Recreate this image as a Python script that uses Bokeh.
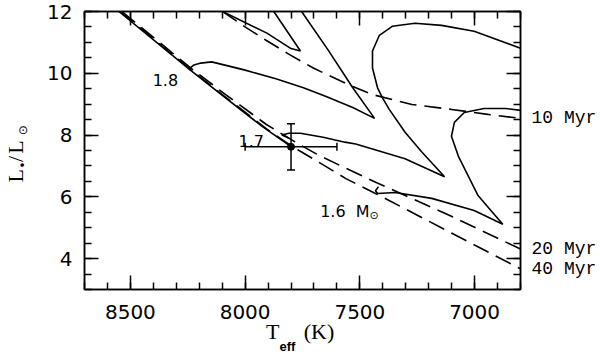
from math import pi
from bokeh.plotting import figure
from bokeh.models import (Range1d, LinearAxis, SingleIntervalTicker, FixedTicker, Label,
                          AllLabels)
from bokeh.embed import file_html
from bokeh.resources import INLINE

# ---------------- data ----------------
zams_teff = [8550, 8240, 8098, 7926, 7797]
zams_lum = [12.0, 10.11, 9.28, 8.28, 7.61]

track20_teff = [8098, 7905, 7800, 7759, 7875]
track20_lum = [12.0, 11.30, 10.80, 10.72, 12.0]

track18_teff = [8231, 8244, 8223, 8193, 8146, 8004, 7866, 7746, 7647, 7531, 7436, 7531, 7638, 7754]
track18_lum = [10.08, 10.14, 10.27, 10.33, 10.37, 10.11, 9.82, 9.53, 9.25, 8.89, 8.54, 9.53, 10.75, 12.0]

track17_teff = [7810, 7840, 7810, 7759, 7660, 7565, 7518, 7303, 7131, 7230, 7303, 7372, 7402,
                7423, 7445, 7445, 7415, 7359, 7260, 7144, 7002, 6800]
track17_lum = [7.90, 8.00, 8.06, 8.06, 7.93, 7.77, 7.71, 7.23, 6.65, 7.45, 8.09, 8.83, 9.21,
               9.53, 10.17, 10.72, 11.23, 11.52, 11.62, 11.55, 11.36, 10.81]

track16_teff = [7419, 7432, 7423, 7346, 7187, 7002, 6877, 6929, 6985, 7028, 7071, 7101, 7088,
                7045, 6959, 6865, 6800]
track16_lum = [6.33, 6.20, 6.11, 6.14, 5.95, 5.56, 5.11, 5.56, 6.04, 6.68, 7.32, 7.96, 8.41,
               8.73, 8.86, 8.86, 8.80]

iso10_teff = [8098, 8004, 7909, 7810, 7703, 7604, 7531, 7445, 7273, 7101, 6942, 6800]
iso10_lum = [12.0, 11.52, 11.07, 10.62, 10.17, 9.82, 9.57, 9.31, 8.99, 8.83, 8.67, 8.54]

iso20_teff = [8537, 8227, 8085, 7909, 7832, 7767, 7690, 7582, 7436, 7101, 6800]
iso20_lum = [12.0, 10.11, 9.31, 8.35, 8.00, 7.71, 7.39, 7.00, 6.49, 5.37, 4.31]

iso40_teff = [8545, 8236, 8094, 7905, 7797, 7754, 7681, 7561, 7432, 7101, 6800]
iso40_lum = [12.0, 10.11, 9.28, 8.19, 7.64, 7.45, 7.13, 6.59, 6.11, 4.83, 3.67]

star_teff = 7800
star_teff_err = 200
star_lum = 7.62
star_lum_err = 0.75

# isochrone labels (right margin), placed at the line ends
iso_labels = ["10 Myr", "20 Myr", "40 Myr"]
iso_label_lum = [8.54, 4.31, 3.66]

mass_labels = ["1.8", "1.7", "1.6"]
mass_label_teff = [8292, 7918, 7673]
mass_label_lum = [9.79, 7.80, 5.53]

# axis-title pieces
xtitle_main = {7880: "T", 7678: "(K)"}
xtitle_sub = {7816: "eff"}
ytitle_main = {6.683: "L", 7.227: "/", 7.612: "L"}
ytitle_sub = {7.035: "\u2022", 8.156: "\u2299"}

# ---------------- figure ----------------
p = figure(width=600, height=356, x_range=Range1d(8700, 6800), y_range=Range1d(3, 12),
           output_backend="svg", toolbar_location=None,
           min_border_left=78, min_border_right=80, min_border_top=11, min_border_bottom=64)
bottom_ax = p.below[0]
left_ax = p.left[0]
p.grid.visible = False
p.background_fill_color = "white"
p.border_fill_color = "white"
p.outline_line_color = "black"
p.outline_line_width = 1.5

xt = SingleIntervalTicker(interval=500, num_minor_ticks=5)
yt = SingleIntervalTicker(interval=2, num_minor_ticks=4)
bottom_ax.ticker = xt
left_ax.ticker = yt

top = LinearAxis(ticker=xt)
right = LinearAxis(ticker=yt)
p.add_layout(top, "above")
p.add_layout(right, "right")

for ax in [bottom_ax, left_ax, top, right]:
    ax.major_tick_in = 14
    ax.major_tick_out = 0
    ax.minor_tick_in = 7
    ax.minor_tick_out = 0
    ax.axis_line_width = 1.5
    ax.axis_line_color = "black"
    ax.major_tick_line_width = 1.5
    ax.minor_tick_line_width = 1.5
    ax.major_tick_line_color = "black"
    ax.minor_tick_line_color = "black"
    ax.major_label_text_font = "DejaVu Sans"
    ax.major_label_text_font_size = "20px"
    ax.major_label_text_color = "black"

for ax in [top, right]:
    ax.major_label_text_font_size = "1px"
    ax.major_label_text_color = None
    ax.major_label_standoff = 0

bottom_ax.major_label_standoff = 15
left_ax.major_label_standoff = 12


def text_axis(ticks, overrides, font, size, standoff, style="normal", orientation="horizontal"):
    ax = LinearAxis(ticker=FixedTicker(ticks=ticks), major_label_overrides=overrides,
                    major_label_policy=AllLabels())
    ax.axis_line_color = None
    ax.major_tick_line_color = None
    ax.minor_tick_line_color = None
    ax.major_tick_in = 0
    ax.major_tick_out = 0
    ax.minor_tick_in = 0
    ax.minor_tick_out = 0
    ax.major_label_text_font = font
    ax.major_label_text_font_size = f"{size}px"
    ax.major_label_text_font_style = style
    ax.major_label_text_color = "black"
    ax.major_label_standoff = standoff
    ax.major_label_orientation = orientation
    return ax


# isochrone labels on the right
p.add_layout(text_axis(iso_label_lum, dict(zip(iso_label_lum, iso_labels)),
                       "Liberation Mono", 18, 11), "right")

# x title: T_eff (K)  -- subscript row first, main row pulled back up over it
p.add_layout(text_axis(list(xtitle_sub.keys()), xtitle_sub, "Liberation Sans", 13, 17, style="bold"), "below")
p.add_layout(text_axis(list(xtitle_main.keys()), xtitle_main, "Liberation Serif", 22, -38), "below")

# y title: L*/Lsun (rotated)
p.add_layout(text_axis(list(ytitle_sub.keys()), ytitle_sub, "DejaVu Sans", 12, 14, orientation="vertical"), "left")
p.add_layout(text_axis(list(ytitle_main.keys()), ytitle_main, "Liberation Serif", 22, -15, orientation="vertical"), "left")

lw = 1.6
dash = "17 8"
p.line(zams_teff, zams_lum, line_color="black", line_width=lw)
p.line(track20_teff, track20_lum, line_color="black", line_width=lw)
p.line(track18_teff, track18_lum, line_color="black", line_width=lw)
p.line(track17_teff, track17_lum, line_color="black", line_width=lw)
p.line(track16_teff, track16_lum, line_color="black", line_width=lw)
p.line(iso10_teff, iso10_lum, line_color="black", line_width=lw, line_dash=dash)
p.line(iso20_teff, iso20_lum, line_color="black", line_width=lw, line_dash=dash)
p.line(iso40_teff, iso40_lum, line_color="black", line_width=lw, line_dash=dash)

# star with error bars
p.segment([star_teff - star_teff_err], [star_lum], [star_teff + star_teff_err], [star_lum],
          line_color="black", line_width=1.5)
p.segment([star_teff], [star_lum - star_lum_err], [star_teff], [star_lum + star_lum_err],
          line_color="black", line_width=1.5)
p.scatter([star_teff - star_teff_err, star_teff + star_teff_err], [star_lum, star_lum],
          marker="dash", angle=pi / 2, size=8, line_color="black", line_width=1.5)
p.scatter([star_teff, star_teff], [star_lum - star_lum_err, star_lum + star_lum_err],
          marker="dash", size=8, line_color="black", line_width=1.5)
p.scatter([star_teff], [star_lum], marker="circle", size=7, fill_color="black", line_color="black")


def lab(x, y, text, size, font="DejaVu Sans", align="left"):
    p.add_layout(Label(x=x, y=y, text=text, text_font=font, text_font_size=f"{size}px",
                       text_align=align, text_baseline="alphabetic", text_color="black"))


# mass labels
lab(mass_label_teff[0], mass_label_lum[0], mass_labels[0], 16, align="right")
lab(mass_label_teff[1], mass_label_lum[1], mass_labels[1], 16, align="right")
lab(mass_label_teff[2], mass_label_lum[2], mass_labels[2], 16)
lab(7518, mass_label_lum[2], "M", 16)
lab(7458, 5.40, "\u2299", 11)

open("out.html", "w").write(file_html(p, INLINE))
